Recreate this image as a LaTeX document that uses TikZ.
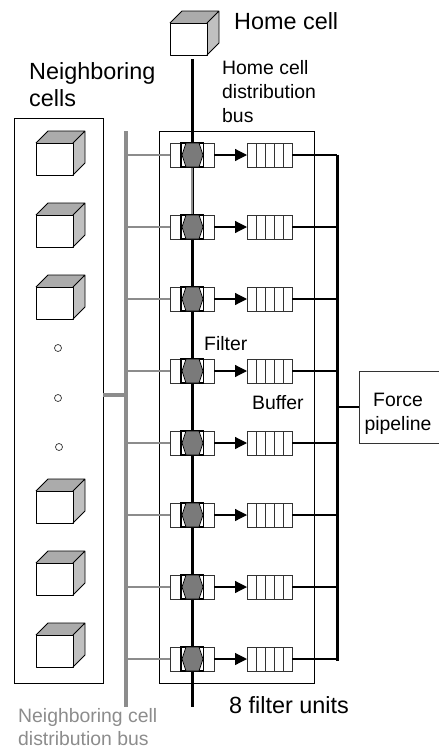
\documentclass[tikz,border=0pt]{standalone}
\usepackage{fontspec}
\setmainfont{Liberation Sans}
\usetikzlibrary{arrows.meta}
\definecolor{busgray}{HTML}{8C8C8C}
\definecolor{hexgray}{HTML}{7A7A7A}
\definecolor{topgray}{HTML}{ABABAB}
\definecolor{sidegray}{HTML}{C0C0C0}
\definecolor{labgray}{HTML}{8C8C8C}
\definecolor{softblack}{HTML}{333333}
\tikzset{
  frame/.style={draw=black,line width=0.9pt},
  blackbus/.style={draw=black,line width=3pt},
  graybus/.style={draw=busgray,line width=3.8pt},
  graytap/.style={draw=busgray,line width=1.3pt},
  link/.style={draw=black,line width=1.2pt},
  lab/.style={inner sep=0pt,align=left,anchor=north west,font=\fontsize{19.4}{24}\selectfont},
  bigl/.style={inner sep=0pt,align=left,anchor=north west,font=\fontsize{23.4}{27}\selectfont},
  pt/.style={circle,draw=softblack,fill=white,line width=0.7pt,inner sep=0pt,minimum size=7pt},
  tofilter/.style={-{Triangle[length=12pt,width=12pt]},line width=1.2pt}
}
\newcommand{\mycube}[2]{%
  \fill[sidegray] (#1+37,#2) -- (#1+49,#2-12) -- (#1+49,#2+20) -- (#1+37,#2+32) -- cycle;
  \fill[topgray] (#1,#2) -- (#1+12,#2-12) -- (#1+49,#2-12) -- (#1+37,#2) -- cycle;
  \draw[black,line width=0.8pt,line join=round] (#1,#2) rectangle (#1+37,#2+32);
  \draw[black,line width=0.8pt,line join=round] (#1,#2) -- (#1+12,#2-12) -- (#1+49,#2-12) -- (#1+49,#2+20) -- (#1+37,#2+32) (#1+37,#2) -- (#1+49,#2-12);
}
\newcommand{\myfilter}[1]{%
  \draw[softblack,line width=1pt,fill=white] (170,#1-12) rectangle (214,#1+12);
  \draw[black,line width=1.4pt] (181,#1-12) rectangle (203.5,#1+12);
  \draw[black,line width=0.7pt,fill=hexgray] (182,#1) -- (186,#1-12) -- (199,#1-12) -- (203,#1) -- (199,#1+12) -- (186,#1+12) -- cycle;
}
\newcommand{\mybuffer}[1]{%
  \draw[softblack,line width=0.7pt,fill=white] (247,#1-12) rectangle (292,#1+12);
  \foreach \xx in {256,265,274,283}{\draw[softblack,line width=0.6pt] (\xx,#1-12) -- (\xx,#1+12);}
}
\begin{document}
\begin{tikzpicture}[x=1pt,y=-1pt]
\useasboundingbox (0,0) rectangle (439,750);
% frames
\node[frame,minimum width=89pt,minimum height=565pt,inner sep=0pt] (ncbox) at (58.5,400.5) {};
\node[frame,minimum width=155pt,minimum height=552pt,inner sep=0pt] (fubox) at (236.5,407) {};
\node[inner sep=0pt,minimum width=1pt,minimum height=1pt] (hcbus) at (192,59) {};
\coordinate (hcend) at (192,707);
\coordinate (rowtop) at (192,155);
\coordinate (rowsec) at (192,227);
\draw[blackbus] (hcbus.center) -- (hcend);
\draw[draw=busgray,line width=2.8pt] (rowtop) -- (rowsec);
% gray bus
\coordinate (gbtop) at (126,131);
\coordinate (gbend) at (126,707);
\draw[graybus] (gbtop) -- (gbend);
\coordinate (gbmid) at (126,395);
\draw[graybus] (ncbox.east |- gbmid) -- (gbmid);
% black collector
\coordinate (bktop) at (337,154.5);
\coordinate (bkend) at (337,660.5);
\draw[blackbus] (bktop) -- (bkend);
% rows
\foreach \yy in {155,227,299,371,443,515,587,659}{
  \coordinate (gl) at (126,\yy);
  \coordinate (gr) at (170,\yy);
  \draw[graytap] (gl) -- (gr);
  \myfilter{\yy}
  \mybuffer{\yy}
  \coordinate (fo) at (214,\yy);
  \coordinate (bi) at (247,\yy);
  \coordinate (bo) at (292,\yy);
  \coordinate (co) at (337,\yy);
  \draw[tofilter] (fo) -- (bi);
  \draw[link] (bo) -- (co);
}
% cubes
\mycube{170}{23}
\foreach \yy in {143,215,287,491,563,635}{\mycube{36}{\yy}}
\node[pt] (d1) at (58,348) {};
\node[pt] (d2) at (58,398) {};
\node[pt] (d3) at (59,447) {};
% pipeline
\draw[softblack,line width=0.8pt] (439.5,371) -- (359,371) -- (359,443) -- (439.5,443);
\coordinate (fpin) at (359,407);
\coordinate (cmid) at (337,407);
\draw[draw=black,line width=2.4pt] (cmid) -- (fpin);
% labels
\node[bigl] (t1) at (234,12) {Home cell};
\node[bigl] (t2) at (29,62) {Neighboring\\cells};
\node[lab] (t3) at (222,60) {Home cell\\distribution\\bus};
\node[lab] (t4) at (204,336) {Filter};
\node[lab] (t5) at (252,395) {Buffer};
\node[lab,align=center,anchor=north] (t6) at (398,393) {Force\\pipeline};
\node[bigl] (t7) at (229,696) {8 filter units};
\node[lab,text=labgray,font=\fontsize{19.4}{23.5}\selectfont] (t8) at (18,708) {Neighboring cell\\distribution bus};
\end{tikzpicture}
\end{document}
